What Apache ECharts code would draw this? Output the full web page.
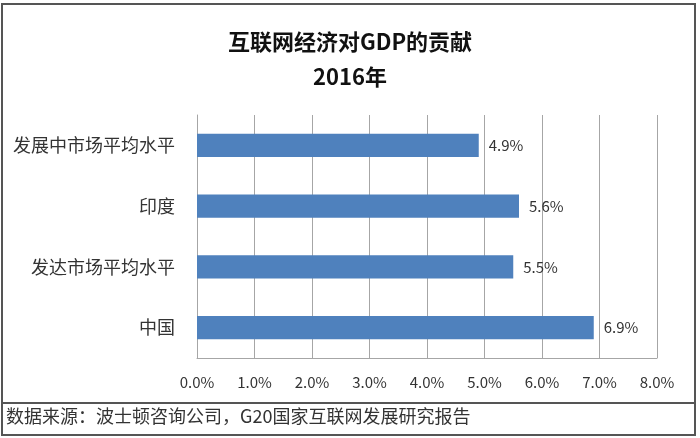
<!DOCTYPE html>
<html>
<head>
<meta charset="utf-8">
<script src="https://cdn.jsdelivr.net/npm/echarts@6/dist/echarts.min.js"></script>
<style>
html,body{margin:0;padding:0;background:#fff;}
#c{width:700px;height:438px;}
</style>
</head>
<body>
<div id="c"></div>
<script>
var categories = ['发展中市场平均水平', '印度', '发达市场平均水平', '中国'];
var values = [4.9, 5.6, 5.5, 6.9];
var titleLines = ['互联网经济对GDP的贡献', '2016年'];
var sourceNote = '数据来源：波士顿咨询公司，G20国家互联网发展研究报告';

var FONT = '"Noto Sans CJK SC", "Microsoft YaHei", sans-serif';
var chart = echarts.init(document.getElementById('c'));
chart.setOption({
  backgroundColor: '#fff',
  animation: false,
  title: [{
    text: titleLines[0] + '\n' + titleLines[1],
    left: 345, top: 19, textAlign: 'center',
    textStyle: {fontFamily: FONT, fontSize: 22, fontWeight: 'bold', color: '#111', lineHeight: 35}
  }],
  grid: {left: 197, right: 43, top: 115, height: 243, containLabel: false},
  xAxis: {
    type: 'value', min: 0, max: 8, interval: 1,
    axisLine: {show: true, lineStyle: {color: '#a6a6a6', width: 1}},
    axisTick: {show: false},
    splitLine: {show: true, lineStyle: {color: '#a6a6a6', width: 1}},
    axisLabel: {
      margin: 17, color: '#333', fontFamily: FONT, fontSize: 15,
      formatter: function (v) { return v.toFixed(1) + '%'; }
    }
  },
  yAxis: {
    type: 'category', data: categories, inverse: true,
    axisLine: {show: true, lineStyle: {color: '#a6a6a6'}},
    axisTick: {show: false},
    axisLabel: {margin: 22, color: '#333', fontFamily: FONT, fontSize: 18}
  },
  series: [{
    type: 'bar', data: values, barCategoryGap: '62%',
    itemStyle: {color: '#4F81BD'},
    label: {
      show: true, position: 'right', distance: 10, color: '#333',
      fontFamily: FONT, fontSize: 15,
      formatter: function (p) { return p.value.toFixed(1) + '%'; }
    }
  }],
  graphic: [
    {type: 'rect', shape: {x: 2, y: 4, width: 693, height: 431}, style: {fill: 'none', stroke: '#555', lineWidth: 2}, silent: true},
    {type: 'line', shape: {x1: 2, y1: 403, x2: 695, y2: 403}, style: {stroke: '#555', lineWidth: 2}, silent: true},
    {type: 'text', left: 6, top: 407, style: {text: sourceNote, fill: '#333', font: '18px ' + FONT}, silent: true}
  ]
});
</script>
</body>
</html>
